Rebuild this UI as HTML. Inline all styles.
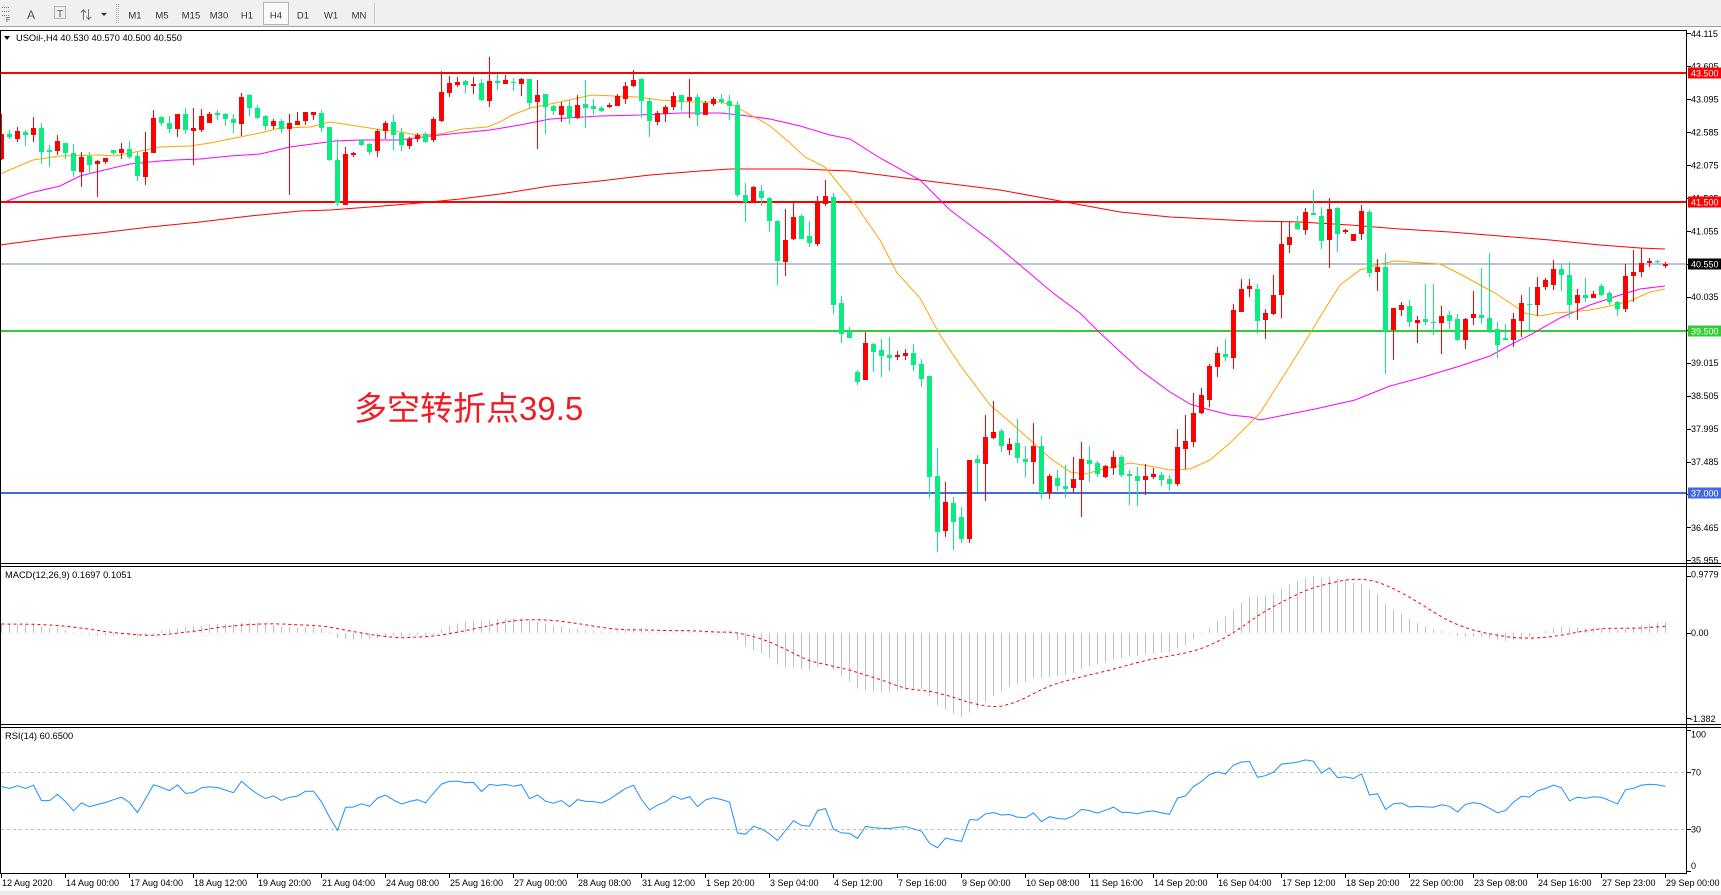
<!DOCTYPE html>
<html><head><meta charset="utf-8"><style>
html,body{margin:0;padding:0;background:#fff;}
svg{display:block;}
text{font-family:"Liberation Sans","Noto Sans CJK SC",sans-serif;}
</style></head><body>
<svg id="s" width="1721" height="895" viewBox="0 0 1721 895" xmlns="http://www.w3.org/2000/svg">
<rect x="0" y="0" width="1721" height="895" fill="#fff"/>
<!-- toolbar -->
<rect x="0" y="0" width="1721" height="26" fill="#f0f0f0"/>
<line x1="0" y1="26.5" x2="1721" y2="26.5" stroke="#a0a0a0"/>
<g fill="#777">
<rect x="2" y="7" width="1" height="1"/><rect x="4" y="7" width="1" height="1"/><rect x="6" y="7" width="1" height="1"/><rect x="8" y="7" width="1" height="1"/>
<rect x="2" y="11" width="1" height="1"/><rect x="4" y="11" width="1" height="1"/><rect x="6" y="11" width="1" height="1"/><rect x="8" y="11" width="1" height="1"/>
<rect x="2" y="15" width="1" height="1"/><rect x="4" y="15" width="1" height="1"/><rect x="6" y="15" width="1" height="1"/><rect x="8" y="15" width="1" height="1"/>
</g>
<text x="6" y="22" font-size="7" fill="#555">F</text>
<text x="27" y="19" font-size="12" fill="#555">A</text>
<rect x="54.5" y="6.5" width="11" height="12" fill="none" stroke="#777" stroke-dasharray="1,1"/>
<text x="57" y="17" font-size="10" fill="#555">T</text>
<text x="80" y="19" font-size="12" fill="#555">⇅</text>
<polygon points="101,13 107,13 104,16" fill="#333"/>
<line x1="116.5" y1="4" x2="116.5" y2="23" stroke="#aaa" stroke-dasharray="1,1"/>
<line x1="118.5" y1="4" x2="118.5" y2="23" stroke="#aaa" stroke-dasharray="1,1"/>
<rect x="263.5" y="2.5" width="25" height="22" fill="#fafafa" stroke="#b4b4b4"/>
<g font-size="9.5" fill="#333" text-anchor="middle">
<text x="135" y="18.5">M1</text><text x="162" y="18.5">M5</text><text x="191" y="18.5">M15</text><text x="219" y="18.5">M30</text><text x="247" y="18.5">H1</text><text x="276" y="18.5">H4</text><text x="303" y="18.5">D1</text><text x="331" y="18.5">W1</text><text x="359" y="18.5">MN</text>
</g>
<line x1="374.5" y1="3" x2="374.5" y2="24" stroke="#c8c8c8"/>

<!-- horizontal levels -->
<rect x="1" y="72" width="1686" height="2" fill="#ff0000"/>
<rect x="1" y="201" width="1686" height="2" fill="#ff0000"/>
<rect x="1" y="263.5" width="1686" height="1" fill="#778899"/>
<rect x="1" y="330" width="1686" height="2" fill="#32cd32"/>
<rect x="1" y="492" width="1686" height="2" fill="#4169e1"/>

<!-- moving averages -->
<polyline fill="none" stroke="#ff0000" stroke-width="1" points="0,245 30,241 60,237 100,233 150,227 200,222 250,216 300,211 330,210 370,207 420,203 460,199 500,194 550,186 600,181 650,175 700,171 730,169 800,169 850,171 920,180 1000,190 1060,201 1120,212 1170,217 1250,221 1300,222 1350,225 1400,229 1450,232 1500,236 1550,240 1600,245 1640,248 1665,249"/>
<polyline fill="none" stroke="#ff00ff" stroke-width="1" points="7,201 30,193 60,186 80,176 100,171 130,164 160,161 175,160 200,159 230,156 260,154 290,147 320,143 335,141 360,140 400,140 430,136 450,134 490,130 520,125 550,119 600,116 640,115 680,113 720,113 740,115 770,119 800,126 830,135 850,139 880,158 920,180 950,210 990,240 1020,265 1053,293 1080,313 1100,333 1140,370 1170,392 1190,404 1210,410 1230,415 1250,417 1260,420 1315,409 1355,400 1390,386 1420,378 1460,366 1490,356 1510,345 1530,335 1560,318 1590,305 1620,295 1640,289 1665,286"/>
<polyline fill="none" stroke="#ffa500" stroke-width="1" points="0,174 33,160 60,156 100,155 115,156 145,150 160,147 190,146 210,143 240,137 260,133 280,128 310,127 330,122 350,125 383,130 400,132 417,135 440,134 463,129 487,127 500,122 510,116 530,108 560,102 592,95 637,97 660,100 690,102 720,102 733,105 745,112 760,120 770,126 790,143 805,157 825,167 838,183 855,204 880,240 897,273 920,298 940,335 960,365 990,405 1010,422 1030,440 1050,458 1070,472 1085,474 1100,470 1130,463 1150,466 1170,470 1190,469 1210,460 1230,443 1260,413 1300,350 1320,317 1340,285 1360,270 1380,264 1395,261 1410,262 1440,264 1460,274 1480,285 1495,293 1510,303 1525,313 1540,316 1555,313 1570,312 1590,310 1610,306 1630,301 1650,292 1665,289"/>

<g id="candles" shape-rendering="crispEdges"></g>

<text x="354" y="420" font-size="33" fill="#ef1c24" font-family="'Liberation Sans','Noto Sans CJK SC',sans-serif">多空转折点39.5</text>

<!-- indicator panels -->
<line x1="1" y1="772.5" x2="1686" y2="772.5" stroke="#c0c0c0" stroke-dasharray="3,3"/>
<line x1="1" y1="829.5" x2="1686" y2="829.5" stroke="#c0c0c0" stroke-dasharray="3,3"/>
<g id="macdh" shape-rendering="crispEdges"></g>
<polyline id="macds" fill="none" stroke="#ff0000" stroke-width="1" stroke-dasharray="3,3" points=""/>
<polyline id="rsi" fill="none" stroke="#1e90ff" stroke-width="1" points=""/>

<!-- frames -->
<g stroke="#000" stroke-width="1" fill="none" shape-rendering="crispEdges">
<line x1="0" y1="30.5" x2="1687" y2="30.5"/>
<line x1="0.5" y1="30" x2="0.5" y2="874"/>
<line x1="1686.5" y1="30" x2="1686.5" y2="874"/>
<line x1="0" y1="563.5" x2="1721" y2="563.5"/>
<line x1="0" y1="566.5" x2="1721" y2="566.5"/>
<line x1="0" y1="724.5" x2="1721" y2="724.5"/>
<line x1="0" y1="727.5" x2="1721" y2="727.5"/>
<line x1="0" y1="873.5" x2="1687" y2="873.5"/>
</g>
<rect x="0" y="891" width="1721" height="4" fill="#ececec"/>

<!-- header labels -->
<polygon points="4,36 10,36 7,40" fill="#000"/>
<text x="16" y="41" font-size="9.3" fill="#000">USOil-,H4  40.530 40.570 40.500 40.550</text>
<text x="5" y="578" font-size="9.3" fill="#000">MACD(12,26,9) 0.1697 0.1051</text>
<text x="5" y="739" font-size="9.3" fill="#000">RSI(14) 60.6500</text>

<!-- price axis -->
<g stroke="#000" shape-rendering="crispEdges">
<line x1="1687" y1="33.5" x2="1691" y2="33.5"/><line x1="1687" y1="66.5" x2="1691" y2="66.5"/><line x1="1687" y1="99.5" x2="1691" y2="99.5"/><line x1="1687" y1="132.5" x2="1691" y2="132.5"/><line x1="1687" y1="165.5" x2="1691" y2="165.5"/><line x1="1687" y1="198.5" x2="1691" y2="198.5"/><line x1="1687" y1="231.5" x2="1691" y2="231.5"/><line x1="1687" y1="264.5" x2="1691" y2="264.5"/><line x1="1687" y1="297.5" x2="1691" y2="297.5"/><line x1="1687" y1="330.5" x2="1691" y2="330.5"/><line x1="1687" y1="363.5" x2="1691" y2="363.5"/><line x1="1687" y1="396.5" x2="1691" y2="396.5"/><line x1="1687" y1="429.5" x2="1691" y2="429.5"/><line x1="1687" y1="462.5" x2="1691" y2="462.5"/><line x1="1687" y1="494.5" x2="1691" y2="494.5"/><line x1="1687" y1="527.5" x2="1691" y2="527.5"/><line x1="1687" y1="560.5" x2="1691" y2="560.5"/>
<line x1="1687" y1="576.5" x2="1691" y2="576.5"/><line x1="1687" y1="633.5" x2="1691" y2="633.5"/><line x1="1687" y1="718.5" x2="1691" y2="718.5"/>
<line x1="1687" y1="730.5" x2="1691" y2="730.5"/><line x1="1687" y1="772.5" x2="1691" y2="772.5"/><line x1="1687" y1="829.5" x2="1691" y2="829.5"/><line x1="1687" y1="871.5" x2="1691" y2="871.5"/>
</g>
<g font-size="9" fill="#000">
<text x="1691" y="36.8">44.115</text><text x="1691" y="69.7">43.605</text><text x="1691" y="102.7">43.095</text><text x="1691" y="135.6">42.585</text><text x="1691" y="168.5">42.075</text><text x="1691" y="201.4">41.565</text><text x="1691" y="234.4">41.055</text><text x="1691" y="267.3">40.545</text><text x="1691" y="300.2">40.035</text><text x="1691" y="333.2">39.525</text><text x="1691" y="366.1">39.015</text><text x="1691" y="399">38.505</text><text x="1691" y="432">37.995</text><text x="1691" y="464.9">37.485</text><text x="1691" y="497.8">36.975</text><text x="1691" y="530.8">36.465</text><text x="1691" y="563.7">35.955</text>
<text x="1691" y="577.5">0.9779</text><text x="1691" y="636">0.00</text><text x="1690" y="722">-1.382</text>
<text x="1691" y="737.3">100</text><text x="1691" y="775.7">70</text><text x="1691" y="832.3">30</text><text x="1691" y="869">0</text>
</g>
<rect x="1688" y="67.5" width="33" height="11" fill="#ff0000"/>
<rect x="1688" y="196.5" width="33" height="11" fill="#ff0000"/>
<rect x="1688" y="258.5" width="33" height="11" fill="#000"/>
<rect x="1688" y="325.5" width="33" height="11" fill="#32cd32"/>
<rect x="1688" y="487.5" width="33" height="11" fill="#4169e1"/>
<g font-size="9" fill="#fff">
<text x="1691" y="76.5">43.500</text><text x="1691" y="205.5">41.500</text><text x="1691" y="267.5">40.550</text><text x="1691" y="334.5">39.500</text><text x="1691" y="496.5">37.000</text>
</g>

<!-- time axis -->
<g stroke="#000" shape-rendering="crispEdges">
<line x1="1.5" y1="874" x2="1.5" y2="878"/><line x1="65.5" y1="874" x2="65.5" y2="878"/><line x1="129.5" y1="874" x2="129.5" y2="878"/><line x1="193.5" y1="874" x2="193.5" y2="878"/><line x1="257.5" y1="874" x2="257.5" y2="878"/><line x1="321.5" y1="874" x2="321.5" y2="878"/><line x1="385.5" y1="874" x2="385.5" y2="878"/><line x1="449.5" y1="874" x2="449.5" y2="878"/><line x1="513.5" y1="874" x2="513.5" y2="878"/><line x1="577.5" y1="874" x2="577.5" y2="878"/><line x1="641.5" y1="874" x2="641.5" y2="878"/><line x1="705.5" y1="874" x2="705.5" y2="878"/><line x1="769.5" y1="874" x2="769.5" y2="878"/><line x1="833.5" y1="874" x2="833.5" y2="878"/><line x1="897.5" y1="874" x2="897.5" y2="878"/><line x1="961.5" y1="874" x2="961.5" y2="878"/><line x1="1025.5" y1="874" x2="1025.5" y2="878"/><line x1="1089.5" y1="874" x2="1089.5" y2="878"/><line x1="1153.5" y1="874" x2="1153.5" y2="878"/><line x1="1217.5" y1="874" x2="1217.5" y2="878"/><line x1="1281.5" y1="874" x2="1281.5" y2="878"/><line x1="1345.5" y1="874" x2="1345.5" y2="878"/><line x1="1409.5" y1="874" x2="1409.5" y2="878"/><line x1="1473.5" y1="874" x2="1473.5" y2="878"/><line x1="1537.5" y1="874" x2="1537.5" y2="878"/><line x1="1601.5" y1="874" x2="1601.5" y2="878"/><line x1="1665.5" y1="874" x2="1665.5" y2="878"/>
</g>
<g font-size="9" fill="#000">
<text x="2" y="886">12 Aug 2020</text><text x="66" y="886">14 Aug 00:00</text><text x="130" y="886">17 Aug 04:00</text><text x="194" y="886">18 Aug 12:00</text><text x="258" y="886">19 Aug 20:00</text><text x="322" y="886">21 Aug 04:00</text><text x="386" y="886">24 Aug 08:00</text><text x="450" y="886">25 Aug 16:00</text><text x="514" y="886">27 Aug 00:00</text><text x="578" y="886">28 Aug 08:00</text><text x="642" y="886">31 Aug 12:00</text><text x="706" y="886">1 Sep 20:00</text><text x="770" y="886">3 Sep 04:00</text><text x="834" y="886">4 Sep 12:00</text><text x="898" y="886">7 Sep 16:00</text><text x="962" y="886">9 Sep 00:00</text><text x="1026" y="886">10 Sep 08:00</text><text x="1090" y="886">11 Sep 16:00</text><text x="1154" y="886">14 Sep 20:00</text><text x="1218" y="886">16 Sep 04:00</text><text x="1282" y="886">17 Sep 12:00</text><text x="1346" y="886">18 Sep 20:00</text><text x="1410" y="886">22 Sep 00:00</text><text x="1474" y="886">23 Sep 08:00</text><text x="1538" y="886">24 Sep 16:00</text><text x="1602" y="886">27 Sep 23:00</text><text x="1666" y="886">29 Sep 00:00</text>
</g>
</svg>
<script>
var D=[[159,134,114,160],[134,137,130,139],[139,131,127,142],[132,135,130,146],[135,128,117,142],[128,152,123,164],[150,152,145,167],[151,141,135,155],[143,153,143,159],[153,171,144,177],
[172,157,152,187],[156,165,152,174],[164,161,160,197],[162,158,158,164],[150,153,150,155],[153,149,143,159],[149,157,141,159],[156,176,152,181],[177,152,132,185],[153,118,110,153],
[117,123,116,126],[123,129,116,133],[129,114,114,137],[114,130,108,134],[131,128,108,165],[130,116,109,132],[123,114,112,123],[113,115,110,120],[114,119,113,126],[119,123,114,133],
[124,97,93,136],[95,108,94,116],[108,118,105,119],[116,126,115,130],[126,121,119,129],[121,129,119,133],[129,123,114,195],[125,121,112,125],[121,112,112,125],[115,112,112,120],
[113,128,110,132],[127,160,127,161],[160,203,139,206],[205,154,147,205],[155,153,152,157],[140,145,139,146],[144,152,143,155],[151,131,129,157],[131,123,121,139],[122,135,115,150],
[133,145,128,151],[146,139,137,149],[139,135,133,142],[134,142,132,143],[140,119,117,142],[121,92,71,122],[93,83,76,97],[85,82,77,87],[81,85,80,93],[86,84,77,94],
[83,100,79,101],[101,81,57,107],[81,83,74,90],[84,80,75,84],[82,83,78,91],[84,79,78,96],[79,103,79,109],[102,95,80,149],[94,107,94,134],[106,111,105,115],
[115,106,102,122],[106,118,100,124],[118,105,95,119],[104,108,80,128],[106,109,99,115],[108,111,106,112],[107,105,103,108],[106,96,94,106],[99,86,82,104],[86,80,70,87],
[79,101,78,118],[101,121,98,137],[122,113,111,125],[114,107,105,122],[107,96,92,110],[95,102,95,111],[101,97,79,118],[97,115,94,126],[115,103,101,115],[104,99,97,106],
[99,102,94,104],[101,106,95,120],[105,195,101,197],[195,202,183,222],[202,187,186,202],[191,198,185,206],[198,221,197,232],[221,261,220,285],[262,240,209,276],[239,217,202,240],
[216,239,214,239],[236,243,221,247],[244,202,196,246],[204,196,180,206],[197,305,193,314],[303,334,296,343],[331,338,327,338],[372,382,370,385],[380,343,332,380],[344,352,343,372],
[350,356,339,377],[355,358,337,371],[357,355,351,360],[356,353,349,360],[353,365,344,371],[364,379,359,387],[376,477,376,498],[476,532,448,552],[531,502,482,537],[503,522,497,550],
[517,539,507,543],[539,460,460,543],[459,463,455,492],[464,437,415,501],[438,432,401,439],[431,446,429,452],[450,444,438,455],[443,458,419,463],[459,462,446,477],[462,446,423,484],
[446,493,436,499],[493,476,474,499],[478,486,470,491],[486,489,465,498],[488,479,457,493],[480,459,442,517],[460,464,446,482],[463,474,461,477],[477,466,465,478],[468,457,451,475],
[457,475,455,477],[474,476,470,505],[476,481,467,506],[480,476,464,495],[477,474,468,479],[475,480,472,486],[479,484,475,491],[484,447,429,486],[449,441,415,469],[442,413,393,447],
[413,395,388,414],[400,366,364,407],[367,353,347,377],[354,357,339,361],[358,310,304,369],[312,289,279,312],[289,286,279,297],[289,321,284,333],[320,313,309,339],[314,295,275,315],
[295,244,221,318],[245,237,221,253],[223,229,216,230],[230,212,208,235],[213,215,190,215],[216,241,207,249],[240,209,198,268],[208,234,207,252],[232,230,229,234],[241,234,234,241],
[234,211,205,240],[212,273,210,277],[272,267,259,291],[267,331,253,374],[330,308,308,360],[310,305,302,316],[306,322,300,327],[323,320,316,343],[319,322,284,325],[322,323,284,335],
[323,316,306,354],[315,321,311,329],[319,340,314,341],[340,319,318,349],[318,314,291,325],[315,318,268,324],[318,331,253,333],[329,345,322,358],[338,340,324,340],[340,319,313,347],
[321,303,295,337],[304,305,287,330],[305,287,277,316],[287,280,278,290],[285,269,260,290],[269,275,264,291],[275,305,262,318],[303,295,289,320],[295,298,278,302],[298,294,291,298],
[286,295,284,296],[293,302,291,305],[302,309,301,316],[309,276,264,312],[276,272,250,302],[272,263,248,277],[263,261,258,267],[261,262,260,264],[266,264,262,268]];
(function(){
var RED='#ff0000',GRN='#0aeb80',g='';
for(var i=0;i<D.length;i++){
 var o=D[i][0],c=D[i][1],h=D[i][2],l=D[i][3],x=8*i+1;
 var col=c<o?RED:GRN;
 g+='<rect x="'+x+'" y="'+h+'" width="1" height="'+Math.max(1,l-h)+'" fill="'+col+'"/>';
 var t=Math.min(o,c),bh=Math.max(1,Math.abs(o-c));
 g+='<rect x="'+(x-2)+'" y="'+t+'" width="5" height="'+bh+'" fill="'+col+'"/>';
}
document.getElementById('candles').innerHTML=g;
function P(y){return (2881.8-y)/64.57;}
var p0=P(D[0][1]),e12=p0-0.11,e26=p0-0.25,m=[],sg=[],hist=[0.14,0.14,0.14,0.14,0.14,0.14,0.14,0.14];
for(i=0;i<D.length;i++){
 var p=P(D[i][1]);
 e12+=(2/13)*(p-e12);e26+=(2/27)*(p-e26);
 var v=e12-e26;m.push(v);hist.push(v);
 var s=0;for(var k=hist.length-9;k<hist.length;k++)s+=hist[k];sg.push(s/9);
}
var mx=Math.max.apply(null,m),mn=Math.min.apply(null,m);
function MY(v){return 576+(mx-v)/(mx-mn)*141;}
var y0=MY(0),hg='',sp='';
for(i=0;i<m.length;i++){
 var yv=MY(m[i]);var top=Math.min(y0,yv),hh=Math.max(1,Math.abs(yv-y0));
 hg+='<rect x="'+(8*i+1)+'" y="'+top.toFixed(1)+'" width="1" height="'+hh.toFixed(1)+'" fill="#c0c0c0"/>';
 sp+=(8*i+1.5)+','+MY(sg[i]).toFixed(1)+' ';
}
document.getElementById('macdh').innerHTML=hg;
document.getElementById('macds').setAttribute('points',sp);
var ag=0.09,al=0.06,prev=p0,rp='';
for(i=0;i<D.length;i++){
 var q=P(D[i][1]);
 if(i>0){var ch=q-prev;ag=(ag*13+Math.max(ch,0))/14;al=(al*13+Math.max(-ch,0))/14;}
 prev=q;
 var r=100*ag/(ag+al);
 rp+=(8*i+1.5)+','+(872-r*1.425).toFixed(1)+' ';
}
document.getElementById('rsi').setAttribute('points',rp);
})();
</script>
</body></html>
